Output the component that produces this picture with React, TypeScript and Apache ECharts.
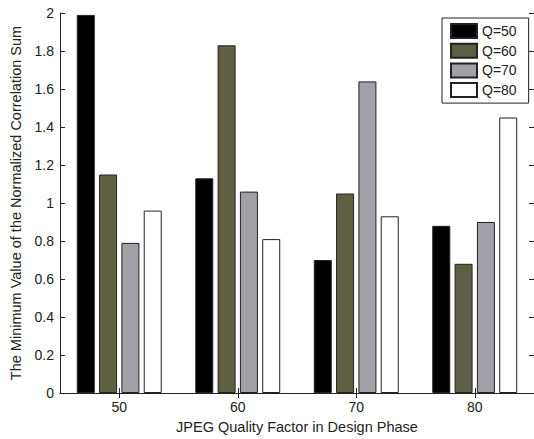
import React, { useEffect, useRef } from "react";
import * as echarts from "echarts";

const categories = ["50", "60", "70", "80"];
const seriesNames = ["Q=50", "Q=60", "Q=70", "Q=80"];
const q50 = [1.99, 1.13, 0.7, 0.88];
const q60 = [1.15, 1.83, 1.05, 0.68];
const q70 = [0.79, 1.06, 1.64, 0.9];
const q80 = [0.96, 0.81, 0.93, 1.45];
const seriesColors = ["#000000", "#5f5f41", "#a0a0a6", "#ffffff"];

export default function App() {
  const ref = useRef<HTMLDivElement>(null);
  useEffect(() => {
    if (!ref.current) return;
    const chart = echarts.init(ref.current, undefined, { renderer: "svg" });
    const font = "'Liberation Sans', Arial, sans-serif";
    const values = [q50, q60, q70, q80];
    const axisLine = { show: true, lineStyle: { color: "#222", width: 1 } };
    chart.setOption({
      animation: false,
      backgroundColor: "#ffffff",
      textStyle: { fontFamily: font },
      grid: { left: 57, right: -4, top: 13, bottom: 46, containLabel: false },
      legend: {
        orient: "vertical",
        left: 442,
        top: 18,
        padding: [5, 12, 5, 8],
        itemWidth: 26,
        itemHeight: 14,
        itemGap: 3.7,
        icon: "rect",
        borderColor: "#222",
        borderWidth: 1,
        backgroundColor: "#fff",
        textStyle: { fontFamily: font, fontSize: 14, color: "#222" },
        data: seriesNames,
      },
      xAxis: [
        {
          type: "category",
          data: categories,
          position: "bottom",
          axisLine,
          axisTick: { show: true, inside: true, alignWithLabel: true, length: 5, lineStyle: { color: "#222" } },
          axisLabel: { fontFamily: font, fontSize: 14, color: "#222", margin: 7 },
          name: "JPEG Quality Factor in Design Phase",
          nameLocation: "middle",
          nameGap: 26,
          nameTextStyle: { fontFamily: font, fontSize: 14.5, color: "#222" },
          splitLine: { show: false },
        },
        {
          type: "category",
          data: categories,
          position: "top",
          axisLine,
          axisTick: { show: true, inside: true, alignWithLabel: true, length: 5, lineStyle: { color: "#222" } },
          axisLabel: { show: false },
          splitLine: { show: false },
        },
      ],
      yAxis: [
        {
          type: "value",
          min: 0,
          max: 2,
          interval: 0.2,
          position: "left",
          axisLine,
          axisTick: { show: true, inside: true, length: 5, lineStyle: { color: "#222" } },
          axisLabel: { fontFamily: font, fontSize: 14, color: "#222", margin: 6 },
          splitLine: { show: false },
          name: "The Minimum Value of the Normalized Correlation Sum",
          nameLocation: "middle",
          nameGap: 37,
          nameTextStyle: { fontFamily: font, fontSize: 14.5, color: "#222" },
        },
        {
          type: "value",
          min: 0,
          max: 2,
          interval: 0.2,
          position: "right",
          axisLine,
          axisTick: { show: true, inside: true, length: 5, lineStyle: { color: "#222" } },
          axisLabel: { show: false },
          splitLine: { show: false },
        },
      ],
      series: seriesNames.map((name, i) => ({
        name,
        type: "bar",
        xAxisIndex: 0,
        yAxisIndex: 0,
        data: values[i],
        barWidth: 18,
        barGap: "24%",
        itemStyle: { color: seriesColors[i], borderColor: "#222", borderWidth: 1 },
      })),
    });
    return () => chart.dispose();
  }, []);
  return <div ref={ref} style={{ width: 534, height: 439, position: "absolute", left: 0, top: 0 }} />;
}
